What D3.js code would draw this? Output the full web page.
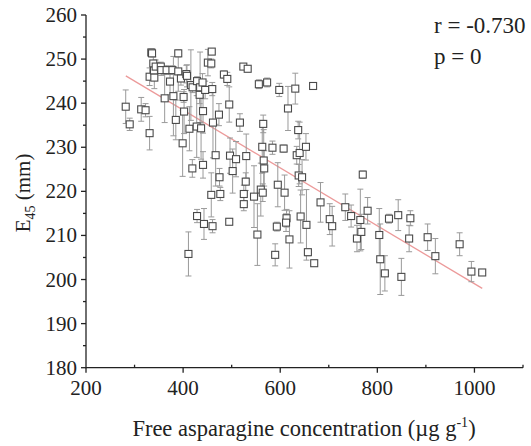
<!DOCTYPE html>
<html><head><meta charset="utf-8">
<script src="https://cdn.jsdelivr.net/npm/d3@7"></script>
<style>body{margin:0;background:#fff}svg{display:block}</style>
</head><body>
<svg id="c" width="531" height="446"></svg>
<script>
const xVals = [281.8,290,313.7,322.7,331,331,334.5,336,338.6,340,340.7,343.5,354,355,366,362,373,378,380,385,390,390,395.5,399,401,402,406.6,408,413,411,419,416,419.5,428.7,428,434,435,437,440,441,441,428.7,443,445.4,451,458,459,460,458,461.5,460.6,467,473.8,475,476.6,484,491,495,496.6,495,502,509,524,533,517,530,529,525,525,546,553,556,573,560,563,565,566,567,564,584,589.6,593,595,598,607,609,613,612,616,619,631,634,637,638,640,642,645,653,654,657,667.7,670,683,702,707,734,746,758,765,767,770,780,804,806,815.5,824,843,849.5,865.5,868,903.6,919.5,969.5,993.7,1016];
const yVals = [239.2,235.2,238.6,238.4,233.2,246,251.5,251.3,249,247.4,245.8,248.3,248.3,247.5,247.5,241.1,244.9,247.5,241.6,236.2,251.3,247.2,245.6,230.9,241.4,238.1,246.6,246.2,234.2,205.8,225.2,244.1,243.6,245,234.7,241.9,243.6,234.3,244.7,238.2,226,214.4,212.6,243,249.2,249,251.7,243.2,219.2,235.6,212.1,228.2,237.4,223.2,219.4,246.5,245.5,239.7,228.1,213.1,224.6,227.3,248.3,247.8,235.6,228,222.2,219.4,217.1,218.8,210.2,244.3,244.7,220.4,230.1,235.3,227,225.2,219.7,229.9,205.6,212,221.5,243,229.7,219.7,213.9,212.9,238.8,209.1,243.3,228.2,233.9,223.6,228.7,214.3,223.2,230.1,212.4,206.2,243.9,203.7,217.5,213.7,212.1,216.4,214.4,209.3,213.5,210.8,223.8,215.6,210.1,204.6,201.4,213.8,214.6,200.6,209.3,213.9,209.6,205.3,208,201.8,201.6];
const yErr = [3.8,1.4,2.7,1.5,3.8,2,0.8,0.8,1.5,1,2.5,1.5,1,1.2,1,5.5,3,1,9,4.5,0.8,4.5,1.5,7.5,1.2,5,2,2.5,5,5,2,8,1.2,1,7,2,8,7,2,5,3,1.5,3.5,2,3,1,0.6,1.5,5,8,1.5,7,2.5,2,1.5,0.8,1.5,4,4,0.5,5,4,0.5,0.5,2,5,2,2,1.5,7,7,1,1,6,6,2,7,4,2,1.5,2.5,1,5,1.5,0.8,4,2,2,5,6.5,3.5,2,2,2.5,7,6,4,3,8,0.8,0.5,0.5,4.5,3.5,4.5,3,2.5,3,7,4,0.8,3,6,8,4,1,3.5,4.2,3,1.7,3,4,2.6,2.3,0.3];
const fitX = [282, 1016];
const fitY = [246.2, 198.0];
const xTicks = [200,400,600,800,1000];
const yTicks = [180,190,200,210,220,230,240,250,260];
const statLines = ["r = -0.730", "p = 0"];

const svg = d3.select("#c");
const font = "'Liberation Serif','Times New Roman',serif";
const x = d3.scaleLinear().domain([200,1100]).range([86,523]);
const y = d3.scaleLinear().domain([180,260]).range([367.7,15]);

const ax = svg.append("g").attr("stroke","#222").attr("stroke-width",1.3);
ax.append("line").attr("x1",x(200)).attr("x2",x(1100)).attr("y1",y(180)).attr("y2",y(180));
ax.append("line").attr("x1",x(200)).attr("x2",x(200)).attr("y1",y(180)+0.6).attr("y2",y(260));
d3.range(180,260.1,5).forEach(v=>{
  const major = v%10===0;
  ax.append("line").attr("x1",x(200)).attr("x2",x(200)-(major?5:3)).attr("y1",y(v)).attr("y2",y(v));
});
d3.range(200,1100.1,100).forEach(v=>{
  const major = v%200===0;
  if(major) ax.append("line").attr("x1",x(v)).attr("x2",x(v)).attr("y1",y(180)).attr("y2",y(180)+5);
  else ax.append("line").attr("x1",x(v)).attr("x2",x(v)).attr("y1",y(180)).attr("y2",y(180)-3);
});
svg.append("g").selectAll("text").data(yTicks).join("text")
  .attr("x",x(200)-9).attr("y",d=>y(d)+7).attr("text-anchor","end")
  .attr("font-family",font).attr("font-size",21).attr("fill","#222").text(d=>d);
svg.append("g").selectAll("text").data(xTicks).join("text")
  .attr("x",d=>x(d)).attr("y",y(180)+27).attr("text-anchor","middle")
  .attr("font-family",font).attr("font-size",21).attr("fill","#222").text(d=>d);

const xt = svg.append("text").attr("x",304).attr("y",436).attr("text-anchor","middle")
  .attr("font-family",font).attr("font-size",22.5).attr("fill","#222");
xt.append("tspan").text("Free asparagine concentration (\u00b5g g");
xt.append("tspan").attr("font-size",14).attr("dy",-9).text("-1");
xt.append("tspan").attr("dy",9).text(")");
const yt = svg.append("text").attr("transform","translate(30,193) rotate(-90)").attr("text-anchor","middle")
  .attr("font-family",font).attr("font-size",21).attr("fill","#222");
yt.append("tspan").text("E");
yt.append("tspan").attr("font-size",14).attr("dy",5).text("45");
yt.append("tspan").attr("dy",-5).text(" (mm)");

svg.append("g").selectAll("text").data(statLines).join("text")
  .attr("x",434).attr("y",(d,i)=>33+i*31)
  .attr("font-family",font).attr("font-size",23).attr("fill","#222").text(d=>d);

svg.append("line").attr("x1",x(fitX[0])).attr("x2",x(fitX[1])).attr("y1",y(fitY[0])).attr("y2",y(fitY[1]))
  .attr("stroke","#ec9a9a").attr("stroke-width",1.3);

const data = xVals.map((v,i)=>({x:v,y:yVals[i],e:yErr[i]}));
const eb = svg.append("g").attr("stroke","#9a9a9a").attr("stroke-width",1);
data.forEach(d=>{
  eb.append("line").attr("x1",x(d.x)).attr("x2",x(d.x)).attr("y1",y(d.y-d.e)).attr("y2",y(d.y+d.e));
  [d.y-d.e,d.y+d.e].forEach(v=>eb.append("line").attr("x1",x(d.x)-3).attr("x2",x(d.x)+3).attr("y1",y(v)).attr("y2",y(v)));
});
svg.append("g").selectAll("rect").data(data).join("rect")
  .attr("x",d=>x(d.x)-3.5).attr("y",d=>y(d.y)-3.5).attr("width",7).attr("height",7)
  .attr("fill","#fff").attr("stroke","#4a4a4a").attr("stroke-width",1.1);
</script>
</body></html>
